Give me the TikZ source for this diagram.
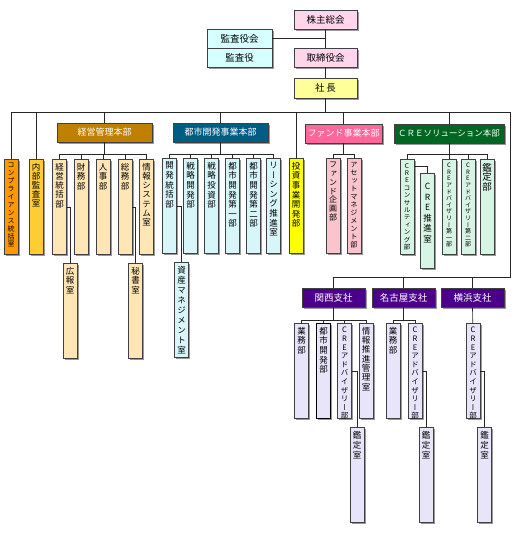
\documentclass[tikz,border=0pt]{standalone}
\usepackage{fontspec}
\setmainfont{Noto Sans CJK JP}
\newfontfamily\tatefont[RawFeature=+vert]{Noto Sans CJK JP}
\usetikzlibrary{shadows}

\definecolor{soukaiC}{RGB}{255,214,236}
\definecolor{shachoC}{RGB}{255,255,153}
\definecolor{kansaC}{RGB}{214,255,255}
\definecolor{compC}{RGB}{255,153,0}
\definecolor{naibuC}{RGB}{255,204,51}
\definecolor{keieiC}{RGB}{191,128,0}
\definecolor{keieiSubC}{RGB}{255,230,180}
\definecolor{toshiC}{RGB}{0,92,130}
\definecolor{toshiSubC}{RGB}{214,246,250}
\definecolor{toushiC}{RGB}{255,255,0}
\definecolor{fundC}{RGB}{255,102,153}
\definecolor{fundSubC}{RGB}{250,196,204}
\definecolor{creC}{RGB}{0,102,34}
\definecolor{creSubC}{RGB}{214,245,228}
\definecolor{shitenC}{RGB}{75,0,140}
\definecolor{shitenSubC}{RGB}{232,228,250}

\begin{document}
\begin{tikzpicture}[
    x=1pt, y=-1pt,
    box/.style={
        draw=black!75,
        line width=0.7pt,
        inner sep=0pt,
        drop shadow={shadow xshift=1.6pt, shadow yshift=-1.6pt,
                     fill=black!40, opacity=1}
    },
    yoko/.style={
        box,
        minimum width=63pt,
        minimum height=19pt,
        font=\fontsize{9.5}{11}\selectfont
    },
    honbu/.style={
        box,
        minimum height=19pt,
        text=white,
        font=\fontsize{9}{11}\selectfont
    },
    shiten/.style={
        honbu,
        fill=shitenC,
        minimum width=63pt,
        font=\fontsize{9.5}{11}\selectfont
    },
    tate/.style={
        box,
        anchor=north,
        minimum width=14pt,
        minimum height=95pt
    },
    vt/.style={
        anchor=north,
        align=center,
        inner sep=0pt,
        yshift=-4pt,
        font=\tatefont\fontsize{8.5}{9.6}\selectfont
    },
    keieisub/.style={tate, fill=keieiSubC},
    toshisub/.style={tate, fill=toshiSubC},
    fundsub/.style={tate, fill=fundSubC},
    cresub/.style={tate, fill=creSubC},
    shitensub/.style={tate, fill=shitenSubC},
    link/.style={
        draw=black!85,
        line width=0.7pt
    }
]
\useasboundingbox (0,0) rectangle (518,533);

% Top
\node[yoko, fill=soukaiC] (kabunushi) at (325.5,19.5) {株主総会};
\node[yoko, fill=soukaiC] (torishimari) at (325.5,57.5) {取締役会};
\node[yoko, fill=shachoC, minimum height=20pt] (shacho) at (325.5,88) {社\,長};
\node[yoko, fill=kansaC, minimum width=65pt] (kansakai) at (239.5,38.5) {監査役会};
\node[yoko, fill=kansaC, minimum width=65pt] (kansayaku) at (239.5,57.5) {監査役};

% Directly under the president
\node[tate, fill=compC,
      label={[vt, font=\tatefont\fontsize{7}{7.9}\selectfont]north:コ\\ン\\プ\\ラ\\イ\\ア\\ン\\ス\\統\\括\\室}]
      (comp) at (11,159) {};
\node[tate, fill=naibuC,
      label={[vt, font=\tatefont\fontsize{8.5}{9}\selectfont]north:内\\部\\監\\査\\室}]
      (naibu) at (36,159) {};
\node[tate, fill=toushiC, label={[vt]north:投\\資\\事\\業\\開\\発\\部}] (toushi) at (296,158) {};

% Headquarters
\node[honbu, fill=keieiC, minimum width=95pt] (keiei) at (104.5,132.5) {経営管理本部};
\node[honbu, fill=toshiC, minimum width=95pt] (toshi) at (220.5,132.5) {都市開発事業本部};
\node[honbu, fill=fundC, minimum width=77pt] (fund) at (343.5,133.5) {ファンド事業本部};
\node[honbu, fill=creC, minimum width=110pt,
      font=\fontsize{8.5}{11}\selectfont] (cre) at (449,133.5) {ＣＲＥソリューション本部};

% Management
\node[keieisub, label={[vt, font=\tatefont\fontsize{8.5}{9.2}\selectfont]north:経\\営\\統\\括\\部}] (keieitoukatsu) at (59.5,159) {};
\node[keieisub, label={[vt]north:財\\務\\部}] (zaimu) at (81,159) {};
\node[keieisub, label={[vt]north:人\\事\\部}] (jinji) at (103,159) {};
\node[keieisub, label={[vt]north:総\\務\\部}] (soumu) at (125,159) {};
\node[keieisub, label={[vt, font=\tatefont\fontsize{8.5}{9.2}\selectfont]north:情\\報\\シ\\ス\\テ\\ム\\室}] (jouhou) at (146.5,159) {};
\node[keieisub, label={[vt]north:広\\報\\室}] (kouhou) at (70,263) {};
\node[keieisub, label={[vt]north:秘\\書\\室}] (hisho) at (135.5,263) {};

% Urban development
\node[toshisub, label={[vt]north:開\\発\\統\\括\\部}] (kaihatsu) at (169.5,158) {};
\node[toshisub, label={[vt]north:戦\\略\\開\\発\\部}] (senryakukai) at (190.5,158) {};
\node[toshisub, label={[vt]north:戦\\略\\投\\資\\部}] (senryakutou) at (211.5,158) {};
\node[toshisub, label={[vt]north:都\\市\\開\\発\\第\\一\\部}] (toshi1) at (232.5,158) {};
\node[toshisub, label={[vt]north:都\\市\\開\\発\\第\\二\\部}] (toshi2) at (253.5,158) {};
\node[toshisub, label={[vt]north:リ\\ー\\シ\\ン\\グ\\推\\進\\室}] (leasing) at (273.5,158) {};
\node[toshisub, label={[vt, font=\tatefont\fontsize{8.5}{10}\selectfont]north:資\\産\\マ\\ネ\\ジ\\メ\\ン\\ト\\室}] (shisan) at (181.5,262) {};

% Fund
\node[fundsub, label={[vt, font=\tatefont\fontsize{8}{8.8}\selectfont]north:フ\\ァ\\ン\\ド\\企\\画\\部}] (fundkikaku) at (333,158) {};
\node[fundsub, label={[vt, font=\tatefont\fontsize{7.2}{8}\selectfont]north:ア\\セ\\ッ\\ト\\マ\\ネ\\ジ\\メ\\ン\\ト\\部}] (asset) at (354,158) {};

% CRE
\node[cresub, label={[vt, font=\tatefont\fontsize{6.5}{7.4}\selectfont]north:C\\R\\E\\コ\\ン\\サ\\ル\\テ\\ィ\\ン\\グ\\部}] (cons) at (407,159) {};
\node[cresub, label={[vt, font=\tatefont\fontsize{8.5}{10.6}\selectfont, yshift=-6pt]north:C\\R\\E\\推\\進\\室}] (suishin) at (427.5,173) {};
\node[cresub, label={[vt, font=\tatefont\fontsize{6}{6.6}\selectfont]north:C\\R\\E\\ア\\ド\\バ\\イ\\ザ\\リ\\ー\\第\\一\\部}] (adv1) at (449,159) {};
\node[cresub, label={[vt, font=\tatefont\fontsize{6}{6.6}\selectfont]north:C\\R\\E\\ア\\ド\\バ\\イ\\ザ\\リ\\ー\\第\\二\\部}] (adv2) at (468,159) {};
\node[cresub, label={[vt, font=\tatefont\fontsize{9.5}{9.8}\selectfont]north:鑑\\定\\部}] (kanteibu) at (487,159) {};

% Branches
\node[shiten] (kansai) at (333.5,297.5) {関西支社};
\node[shiten] (nagoya) at (403.5,297.5) {名古屋支社};
\node[shiten] (yokohama) at (472.5,297.5) {横浜支社};

\node[shitensub, label={[vt]north:業\\務\\部}] (kgyoumu) at (301.5,323) {};
\node[shitensub, draw=black, label={[vt]north:都\\市\\開\\発\\部}] (ktoshi) at (323.5,323) {};
\node[shitensub, label={[vt, font=\tatefont\fontsize{7.5}{8.6}\selectfont]north:C\\R\\E\\ア\\ド\\バ\\イ\\ザ\\リ\\ー\\部}] (kadv) at (344.5,323) {};
\node[shitensub, label={[vt, font=\tatefont\fontsize{8.5}{9.3}\selectfont]north:情\\報\\推\\進\\管\\理\\室}] (kjouhou) at (366,323) {};
\node[shitensub, label={[vt, font=\tatefont\fontsize{8.5}{10}\selectfont]north:鑑\\定\\室}] (kkantei) at (357,427) {};

\node[shitensub, label={[vt]north:業\\務\\部}] (ngyoumu) at (393,323) {};
\node[shitensub, label={[vt, font=\tatefont\fontsize{7.5}{8.6}\selectfont]north:C\\R\\E\\ア\\ド\\バ\\イ\\ザ\\リ\\ー\\部}] (nadv) at (415,323) {};
\node[shitensub, label={[vt, font=\tatefont\fontsize{8.5}{10}\selectfont]north:鑑\\定\\室}] (nkantei) at (426,427) {};

\node[shitensub, label={[vt, font=\tatefont\fontsize{7.5}{8.6}\selectfont]north:C\\R\\E\\ア\\ド\\バ\\イ\\ザ\\リ\\ー\\部}] (yadv) at (473,323) {};
\node[shitensub, label={[vt, font=\tatefont\fontsize{8.5}{10}\selectfont]north:鑑\\定\\室}] (ykantei) at (484.5,427) {};

% Main lines
\coordinate (busL) at (11,112);
\coordinate (busR) at (510,112);
\coordinate (shitenR) at (510,277);
\coordinate (shitenL) at (333.5,277);

\draw[link] (kabunushi) -- (torishimari);
\draw[link] (torishimari) -- (shacho);
\draw[link] (kansakai.east) -- (kansakai.east -| kabunushi.south);
\draw[link] (shacho.south) -- (shacho.south |- busL);
\draw[link] (busL) -- (busR) -- (shitenR) -- (shitenL);

\foreach \n in {comp,naibu,keiei,toshi,toushi,fund,cre}
    \draw[link] (\n.north) -- (\n.north |- busL);

\foreach \n in {kansai,nagoya,yokohama}
    \draw[link] (\n.north) -- (\n.north |- shitenR);

% Department lines
\coordinate (keieiB) at (104.5,154);
\coordinate (toshiB) at (220.5,154);
\coordinate (fundB) at (343.5,154);
\coordinate (creB) at (449,154);
\coordinate (kansaiB) at (333.5,320);
\coordinate (nagoyaB) at (403.5,320);

\draw[link] (keiei) -- (keieiB);
\foreach \n in {keieitoukatsu,zaimu,jinji,soumu,jouhou}
    \draw[link] (keieiB) -| (\n.north);

\draw[link] (toshi) -- (toshiB);
\foreach \n in {kaihatsu,senryakukai,senryakutou,toshi1,toshi2,leasing}
    \draw[link] (toshiB) -| (\n.north);

\draw[link] (fund) -- (fundB);
\foreach \n in {fundkikaku,asset}
    \draw[link] (fundB) -| (\n.north);

\draw[link] (cre) -- (creB);
\foreach \n in {cons,adv1,adv2,kanteibu}
    \draw[link] (creB) -| (\n.north);

\draw[link] (kansai) -- (kansaiB);
\foreach \n in {kgyoumu,ktoshi,kadv,kjouhou}
    \draw[link] (kansaiB) -| (\n.north);

\draw[link] (nagoya) -- (nagoyaB);
\foreach \n in {ngyoumu,nadv}
    \draw[link] (nagoyaB) -| (\n.north);

\draw[link] (yokohama) -- (yadv);

% Sections
\draw[link] (keieitoukatsu.east) -| (kouhou.north);
\draw[link] (soumu.east) -| (hisho.north);
\draw[link] (kaihatsu.east) -| (shisan.north);
\draw[link] ([yshift=-7pt]cons.north east) -| (suishin.north);
\draw[link] (kadv.east) -| (kkantei.north);
\draw[link] (nadv.east) -| (nkantei.north);
\draw[link] (yadv.east) -| (ykantei.north);

\end{tikzpicture}
\end{document}
